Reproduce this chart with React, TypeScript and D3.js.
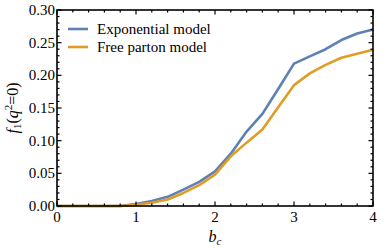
import React, { useEffect, useRef } from 'react';
import * as d3 from 'd3';

// b_c sample points
const bc = [0, 0.2, 0.4, 0.6, 0.8, 1.0, 1.2, 1.4, 1.6, 1.8, 2.0, 2.2, 2.4, 2.6, 2.8, 3.0, 3.2, 3.4, 3.6, 3.8, 4.0];
const exponentialModel = [0, 0, 0, 0, 0, 0.003, 0.0075, 0.014, 0.025, 0.037, 0.053, 0.080, 0.114, 0.141, 0.179, 0.218, 0.229, 0.240, 0.254, 0.264, 0.270];
const freePartonModel = [0, 0, 0, 0, 0, 0.002, 0.005, 0.010, 0.020, 0.032, 0.048, 0.076, 0.097, 0.117, 0.151, 0.185, 0.203, 0.216, 0.227, 0.233, 0.239];
const xTicks = [0, 1, 2, 3, 4];
const yTicks = [0, 0.05, 0.1, 0.15, 0.2, 0.25, 0.3];
const seriesNames = ['Exponential model', 'Free parton model'];
const seriesColors = ['#5e81b5', '#e19c24'];

const FONT = "'Times New Roman', 'Liberation Serif', Times, serif";

export default function App() {
  const svgRef = useRef<SVGSVGElement>(null);

  useEffect(() => {
    const svg = d3.select(svgRef.current);
    svg.selectAll('*').remove();

    const W = 382, H = 249;
    const m = { top: 10, right: 9, bottom: 43, left: 57 };
    const w = W - m.left - m.right;
    const h = H - m.top - m.bottom;

    const x = d3.scaleLinear().domain([0, 4]).range([0, w]);
    const y = d3.scaleLinear().domain([0, 0.3]).range([h, 0]);

    const g = svg.append('g').attr('transform', `translate(${m.left},${m.top})`);

    // data lines
    const line = d3.line<number>()
      .x((_, i) => x(bc[i]))
      .y(d => y(d));

    [exponentialModel, freePartonModel].forEach((vals, k) => {
      g.append('path')
        .datum(vals)
        .attr('fill', 'none')
        .attr('stroke', seriesColors[k])
        .attr('stroke-width', 2.6)
        .attr('stroke-linejoin', 'round')
        .attr('d', line);
    });

    // frame
    g.append('rect')
      .attr('width', w).attr('height', h)
      .attr('fill', 'none').attr('stroke', '#000').attr('stroke-width', 1.6);

    // ticks on all four sides, pointing inward
    const xMinor = d3.range(0, 4.001, 0.2);
    xMinor.forEach(v => {
      const major = Math.abs(v - Math.round(v)) < 1e-6;
      const len = major ? 4.5 : 2.5;
      const px = x(v);
      g.append('line').attr('x1', px).attr('x2', px).attr('y1', h).attr('y2', h - len)
        .attr('stroke', '#000').attr('stroke-width', 1.2);
      g.append('line').attr('x1', px).attr('x2', px).attr('y1', 0).attr('y2', len)
        .attr('stroke', '#000').attr('stroke-width', 1.2);
    });
    const yMinor = d3.range(0, 0.3001, 0.01);
    yMinor.forEach((v, i) => {
      const major = i % 5 === 0;
      const len = major ? 4.5 : 2.5;
      const py = y(v);
      g.append('line').attr('x1', 0).attr('x2', len).attr('y1', py).attr('y2', py)
        .attr('stroke', '#000').attr('stroke-width', 1.2);
      g.append('line').attr('x1', w).attr('x2', w - len).attr('y1', py).attr('y2', py)
        .attr('stroke', '#000').attr('stroke-width', 1.2);
    });

    // tick labels
    xTicks.forEach(v => {
      g.append('text')
        .attr('x', x(v)).attr('y', h + 16)
        .attr('text-anchor', 'middle')
        .style('font-family', FONT).attr('font-size', 15)
        .text(String(v));
    });
    yTicks.forEach(v => {
      g.append('text')
        .attr('x', -2).attr('y', y(v) + 5)
        .attr('text-anchor', 'end')
        .style('font-family', FONT).attr('font-size', 15)
        .text(v.toFixed(2));
    });

    // axis titles
    const xt = svg.append('text')
      .attr('x', m.left + w / 2).attr('y', 242)
      .attr('text-anchor', 'middle')
      .style('font-family', FONT).attr('font-size', 16).attr('font-style', 'italic');
    xt.append('tspan').text('b');
    xt.append('tspan').attr('font-size', 11).attr('dy', 3).text('c');

    const yt = svg.append('text')
      .attr('transform', `translate(18,${m.top + h / 2}) rotate(-90)`)
      .attr('text-anchor', 'middle')
      .style('font-family', FONT).attr('font-size', 16);
    yt.append('tspan').attr('font-style', 'italic').text('f');
    yt.append('tspan').attr('font-size', 11).attr('dy', 3).text('1');
    yt.append('tspan').attr('dy', -3).text('(');
    yt.append('tspan').attr('font-style', 'italic').text('q');
    yt.append('tspan').attr('font-size', 11).attr('dy', -6).text('2');
    yt.append('tspan').attr('dy', 6).text('=0)');

    // legend
    seriesNames.forEach((name, k) => {
      const ly = 19 + k * 18;
      g.append('line')
        .attr('x1', 11).attr('x2', 31).attr('y1', ly).attr('y2', ly)
        .attr('stroke', seriesColors[k]).attr('stroke-width', 2.6);
      g.append('text')
        .attr('x', 40).attr('y', ly + 5)
        .style('font-family', FONT).attr('font-size', 15)
        .text(name);
    });
  }, []);

  return (
    <svg
      ref={svgRef}
      width={382}
      height={249}
      style={{ display: 'block', position: 'absolute', left: 0, top: 0, background: '#fff' }}
    />
  );
}
